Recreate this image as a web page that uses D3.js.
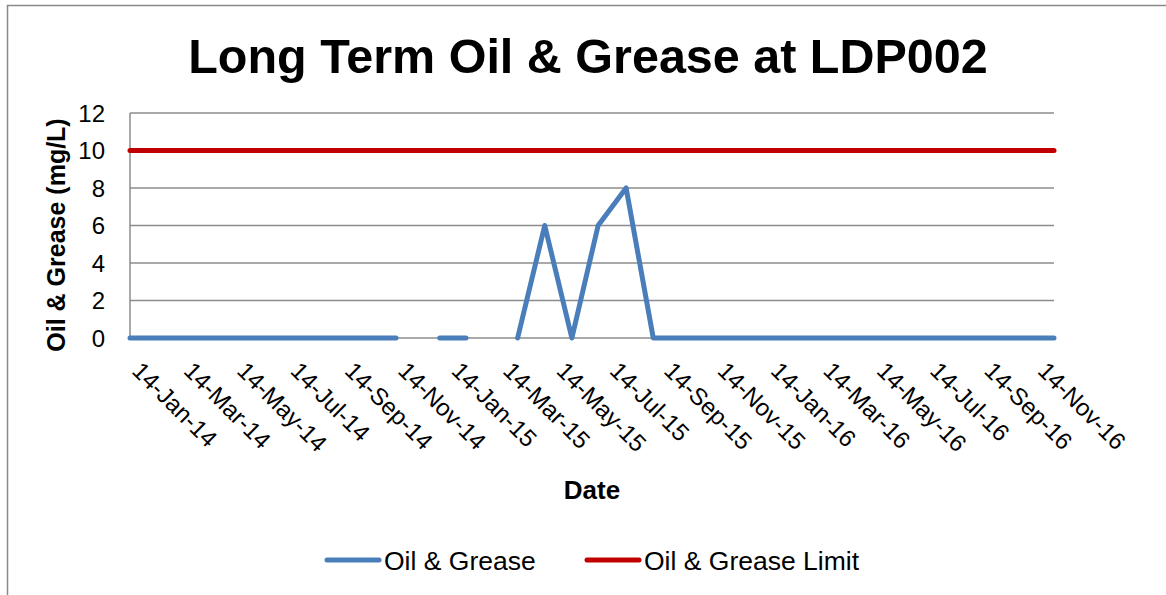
<!DOCTYPE html>
<html>
<head>
<meta charset="utf-8">
<script src="https://cdn.jsdelivr.net/npm/d3@7"></script>
<style>
  body { margin: 0; background: #fff; }
  text { font-family: "Liberation Sans", Arial, sans-serif; fill: #000; }
</style>
</head>
<body>
<div id="chart"></div>
<script>
// sample dates and values
var sampleDates = [
  "2014-01-14","2014-02-14","2014-03-14","2014-04-14","2014-05-14","2014-06-14",
  "2014-07-14","2014-08-14","2014-09-14","2014-10-14","2014-11-14","2014-12-05",
  "2015-01-03","2015-02-02","2015-03-04","2015-04-02","2015-05-03","2015-06-03",
  "2015-07-03","2015-08-04","2015-09-04","2015-10-05","2015-11-05","2015-12-05",
  "2016-01-05","2016-02-05","2016-03-05","2016-04-05","2016-05-05","2016-06-05",
  "2016-07-05","2016-08-05","2016-09-05","2016-10-05","2016-11-05","2016-12-05"
];
var oilGrease = [
  0,0,0,0,0,0,
  0,0,0,0,0,null,
  0,0,null,0,6,0,
  6,8,0,0,0,0,
  0,0,0,0,0,0,
  0,0,0,0,0,0
];
var oilGreaseLimit = sampleDates.map(function() { return 10; });

var tickLabels = ["14-Jan-14","14-Mar-14","14-May-14","14-Jul-14","14-Sep-14","14-Nov-14",
  "14-Jan-15","14-Mar-15","14-May-15","14-Jul-15","14-Sep-15","14-Nov-15",
  "14-Jan-16","14-Mar-16","14-May-16","14-Jul-16","14-Sep-16","14-Nov-16"];
var yTicks = [0, 2, 4, 6, 8, 10, 12];

var width = 1166, height = 595;
var plot = {left: 130, right: 1054, top: 113, bottom: 338};

var parseISO = d3.timeParse("%Y-%m-%d");
var parseLabel = d3.timeParse("%d-%b-%y");
var dates = sampleDates.map(parseISO);

var svg = d3.select("#chart").append("svg")
    .attr("width", width).attr("height", height);

// outer chart border (only top/left visible in the crop)
svg.append("path")
    .attr("d", "M7.5," + height + "V5.5H" + width)
    .attr("fill", "none").attr("stroke", "#898989").attr("stroke-width", 1.5);

var x = d3.scaleTime()
    .domain([dates[0], dates[dates.length - 1]])
    .range([plot.left, plot.right]);
var y = d3.scaleLinear()
    .domain([0, 12])
    .range([plot.bottom, plot.top]);

// gridlines
svg.append("g").selectAll("line")
    .data(yTicks)
    .enter().append("line")
    .attr("x1", plot.left).attr("x2", plot.right)
    .attr("y1", function(d) { return y(d); })
    .attr("y2", function(d) { return y(d); })
    .attr("stroke", "#8c8c8c").attr("stroke-width", 1.5);

// y axis line
svg.append("line")
    .attr("x1", plot.left).attr("x2", plot.left)
    .attr("y1", plot.top).attr("y2", plot.bottom)
    .attr("stroke", "#8c8c8c").attr("stroke-width", 1.5);

// y tick labels
svg.append("g").selectAll("text")
    .data(yTicks)
    .enter().append("text")
    .attr("x", 105)
    .attr("y", function(d) { return y(d); })
    .attr("dy", "0.36em")
    .attr("text-anchor", "end")
    .style("font-size", "24px")
    .text(function(d) { return d; });

// x tick labels, rotated
svg.append("g").selectAll("text")
    .data(tickLabels)
    .enter().append("text")
    .attr("transform", function(d) {
      return "translate(" + (x(parseLabel(d)) + 13) + ",360) rotate(45)";
    })
    .attr("dy", "0.72em")
    .style("font-size", "24px")
    .text(function(d) { return d; });

// lines
var line = d3.line()
    .defined(function(d) { return d[1] != null; })
    .x(function(d) { return x(d[0]); })
    .y(function(d) { return y(d[1]); });

svg.append("path")
    .datum(dates.map(function(d, i) { return [d, oilGreaseLimit[i]]; }))
    .attr("d", line)
    .attr("fill", "none").attr("stroke", "#c00000")
    .attr("stroke-width", 5).attr("stroke-linecap", "round").attr("stroke-linejoin", "round");

svg.append("path")
    .datum(dates.map(function(d, i) { return [d, oilGrease[i]]; }))
    .attr("d", line)
    .attr("fill", "none").attr("stroke", "#4a7ebb")
    .attr("stroke-width", 5).attr("stroke-linecap", "round").attr("stroke-linejoin", "round");

// titles
svg.append("text")
    .attr("x", 588).attr("y", 73)
    .attr("text-anchor", "middle")
    .style("font-size", "48.5px").style("font-weight", "bold")
    .text("Long Term Oil & Grease at LDP002");

svg.append("text")
    .attr("transform", "translate(65,235) rotate(-90)")
    .attr("text-anchor", "middle")
    .style("font-size", "25px").style("font-weight", "bold")
    .text("Oil & Grease (mg/L)");

svg.append("text")
    .attr("x", 592).attr("y", 499)
    .attr("text-anchor", "middle")
    .style("font-size", "26px").style("font-weight", "bold")
    .text("Date");

// legend
var legend = [
  {name: "Oil & Grease", color: "#4a7ebb", x: 327},
  {name: "Oil & Grease Limit", color: "#c00000", x: 587}
];
var lg = svg.append("g").selectAll("g")
    .data(legend)
    .enter().append("g")
    .attr("transform", function(d) { return "translate(" + d.x + ",560)"; });
lg.append("line")
    .attr("x1", 0).attr("x2", 52)
    .attr("stroke", function(d) { return d.color; })
    .attr("stroke-width", 5).attr("stroke-linecap", "round");
lg.append("text")
    .attr("x", 57).attr("dy", "0.36em")
    .style("font-size", "26.5px")
    .text(function(d) { return d.name; });
</script>
</body>
</html>
